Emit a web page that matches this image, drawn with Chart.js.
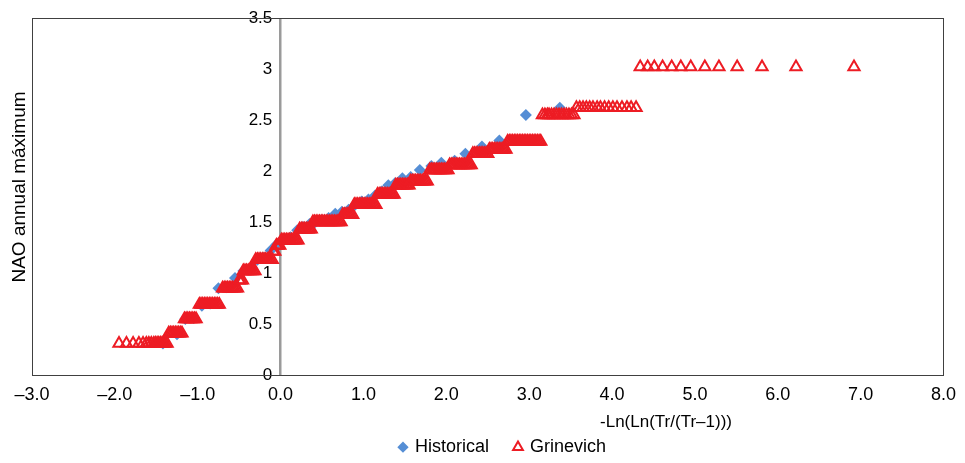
<!DOCTYPE html>
<html><head><meta charset="utf-8">
<script src="https://cdn.jsdelivr.net/npm/chart.js@4.4.1/dist/chart.umd.min.js"></script>
<style>html,body{margin:0;padding:0;background:#fff}canvas{display:block}</style>
</head><body>
<canvas id="c" width="965" height="463"></canvas>
<script>
// ---- data ----
const xTitle = '-Ln(Ln(Tr/(Tr\u20131)))';
const yTitle = 'NAO annual m\u00e1ximum';
const seriesNames = ['Historical', 'Grinevich'];

const histX = [-1.42,-1.25,-1.15,-1.05,-0.95,-0.85,-0.75,-0.65,-0.55,-0.45,-0.35,-0.28,-0.20,-0.12,-0.05,0.00,0.05,0.12,0.20,0.27,0.35,0.42,0.50,0.58,0.66,0.74,0.82,0.90,0.98,1.06,1.14,1.22,1.30,1.38,1.47,1.57,1.68,1.82,1.94,2.10,2.23,2.43,2.64,2.96,3.37];
const histY = [0.31,0.40,0.55,0.56,0.68,0.70,0.85,0.86,0.95,1.02,1.05,1.13,1.15,1.22,1.28,1.31,1.33,1.35,1.42,1.45,1.48,1.50,1.52,1.54,1.58,1.60,1.62,1.67,1.70,1.72,1.76,1.80,1.86,1.88,1.93,1.94,2.01,2.05,2.08,2.10,2.17,2.24,2.30,2.55,2.62];

const grinLevels = [0.31,0.41,0.55,0.69,0.85,0.93,1.02,1.13,1.21,1.27,1.32,1.43,1.50,1.57,1.67,1.77,1.86,1.90,2.01,2.06,2.17,2.21,2.29,2.55,2.62,3.02];
const grinX = [
  [-1.95,-1.86,-1.78,-1.71,-1.66,-1.62,-1.59,-1.56,-1.53,-1.51,-1.49,-1.47,-1.45,-1.43,-1.41,-1.39,-1.37],
  [-1.35,-1.33,-1.31,-1.29,-1.27,-1.25,-1.23,-1.21,-1.19],
  [-1.16,-1.14,-1.12,-1.10,-1.08,-1.06,-1.04,-1.02],
  [-0.98,-0.96,-0.94,-0.92,-0.90,-0.88,-0.86,-0.84,-0.82,-0.80,-0.78,-0.76,-0.74],
  [-0.70,-0.68,-0.66,-0.64,-0.62,-0.60,-0.58,-0.56,-0.54,-0.52],
  [-0.50,-0.48,-0.46],
  [-0.45,-0.43,-0.41,-0.39,-0.37,-0.35,-0.33,-0.31],
  [-0.30,-0.28,-0.26,-0.24,-0.22,-0.20,-0.18,-0.16,-0.14,-0.12,-0.10],
  [-0.09,-0.07],
  [-0.05,-0.03,-0.01],
  [0.01,0.03,0.05,0.07,0.09,0.11,0.13,0.15,0.17,0.19,0.21],
  [0.23,0.25,0.27,0.29,0.31,0.33,0.35,0.37],
  [0.39,0.41,0.43,0.45,0.47,0.49,0.51,0.53,0.55,0.57,0.59,0.61,0.63,0.65,0.67,0.69,0.71,0.73],
  [0.75,0.77,0.79,0.81,0.83,0.85,0.87],
  [0.89,0.91,0.93,0.95,0.97,0.99,1.01,1.03,1.05,1.07,1.09,1.11,1.13,1.15],
  [1.17,1.19,1.21,1.23,1.25,1.27,1.29,1.31,1.33,1.35,1.37],
  [1.39,1.41,1.43,1.45,1.47,1.49,1.51,1.53,1.55],
  [1.57,1.59,1.61,1.63,1.65,1.67,1.69,1.71,1.73,1.75,1.77],
  [1.80,1.82,1.84,1.86,1.88,1.90,1.92,1.94,1.96,1.98,2.00,2.02],
  [2.04,2.06,2.08,2.10,2.12,2.14,2.16,2.18,2.20,2.22,2.24,2.26,2.28,2.30],
  [2.32,2.34,2.36,2.38,2.40,2.42,2.44,2.46,2.48,2.50],
  [2.52,2.54,2.56,2.58,2.60,2.62,2.64,2.66,2.68,2.70,2.72],
  [2.74,2.76,2.78,2.80,2.82,2.84,2.86,2.88,2.90,2.92,2.94,2.96,2.98,3.00,3.02,3.04,3.06,3.08,3.10,3.12,3.14],
  [3.16,3.19,3.22,3.24,3.27,3.30,3.33,3.36,3.39,3.42,3.45,3.48,3.51,3.54],
  [3.57,3.61,3.65,3.69,3.73,3.77,3.82,3.86,3.91,3.96,4.01,4.06,4.12,4.18,4.23,4.29],
  [4.34,4.43,4.51,4.61,4.72,4.83,4.95,5.12,5.29,5.51,5.81,6.22,6.92]
];

const xMin = -3, xMax = 8, yMin = 0, yMax = 3.5;

// ---- build points ----
const histPts = histX.map((x, i) => ({x: x, y: histY[i]}));
const grinPts = [];
grinLevels.forEach((lv, i) => grinX[i].forEach(x => grinPts.push({x: x, y: lv})));

const BLUE = '#558ED5', RED = '#ED1C24';
const FONT = "'Liberation Sans', Arial, sans-serif";

const frameAndTitles = {
  id: 'frameAndTitles',
  afterLayout(chart) {
    const lg = chart.legend;
    if (lg) {
      const dx = 503 - (lg.left + lg.right) / 2;
      lg.left += dx; lg.right += dx;
      const pad = lg.options.labels.padding;
      const h = lg.bottom - lg.top;
      const top = 449 - pad - 10.8;
      lg.top = top; lg.bottom = top + h;
    }
  },
  afterDatasetsDraw(chart) {
    const {ctx, chartArea: a} = chart;
    ctx.save();
    ctx.strokeStyle = '#404040';
    ctx.lineWidth = 1;
    ctx.strokeRect(Math.round(a.left) + 0.5, Math.round(a.top) + 0.5, Math.round(a.right - a.left), Math.round(a.bottom - a.top));
    ctx.fillStyle = '#000';
    ctx.font = '17px ' + FONT;
    ctx.textAlign = 'center';
    ctx.textBaseline = 'middle';
    ctx.fillText(xTitle, 666, 422);
    ctx.translate(20, 187);
    ctx.rotate(-Math.PI / 2);
    ctx.font = '19px ' + FONT;
    ctx.fillText(yTitle, 0, 0);
    ctx.restore();
  }
};

new Chart(document.getElementById('c'), {
  type: 'scatter',
  data: {
    datasets: [
      {
        label: seriesNames[0], data: histPts, order: 2,
        pointStyle: 'rectRot', pointRadius: 6, pointHoverRadius: 6,
        backgroundColor: BLUE, borderColor: BLUE, borderWidth: 0
      },
      {
        label: seriesNames[1], data: grinPts, order: 1,
        pointStyle: 'triangle', pointRadius: 6.5, pointHoverRadius: 6.5,
        backgroundColor: 'rgba(255,255,255,0)', borderColor: RED, borderWidth: 2
      }
    ]
  },
  options: {
    responsive: false, animation: false, devicePixelRatio: 1,
    layout: {padding: {left: 32, right: 20, top: 18, bottom: 0}},
    scales: {
      x: {
        type: 'linear', min: xMin, max: xMax,
        afterFit(s) { const lh = s.chart.legend ? s.chart.legend.height : 0; s.height = Math.max(10, 463 - 375 - lh); },
        ticks: {stepSize: 1, padding: 9, color: '#000', font: {family: FONT, size: 18},
          callback: v => (v < 0 ? '\u2013' : '') + Math.abs(v).toFixed(1)},
        grid: {display: true, drawTicks: false, lineWidth: 2.5,
          color: c => (c.tick && c.tick.value === 0) ? '#9A9A9A' : 'rgba(0,0,0,0)'},
        border: {display: false}
      },
      y: {
        type: 'linear', min: yMin, max: yMax, position: {x: -0.1},
        ticks: {stepSize: 0.5, color: '#000', font: {family: FONT, size: 17},
          callback: v => String(v)},
        grid: {display: false},
        border: {display: false}
      }
    },
    plugins: {
      tooltip: {enabled: false},
      legend: {
        position: 'bottom',
        labels: {usePointStyle: true, boxWidth: 6, boxHeight: 8, padding: 26, color: '#000',
          font: {family: FONT, size: 18},
          sort: (a, b) => a.datasetIndex - b.datasetIndex}
      }
    }
  },
  plugins: [frameAndTitles]
});
</script>
</body></html>
